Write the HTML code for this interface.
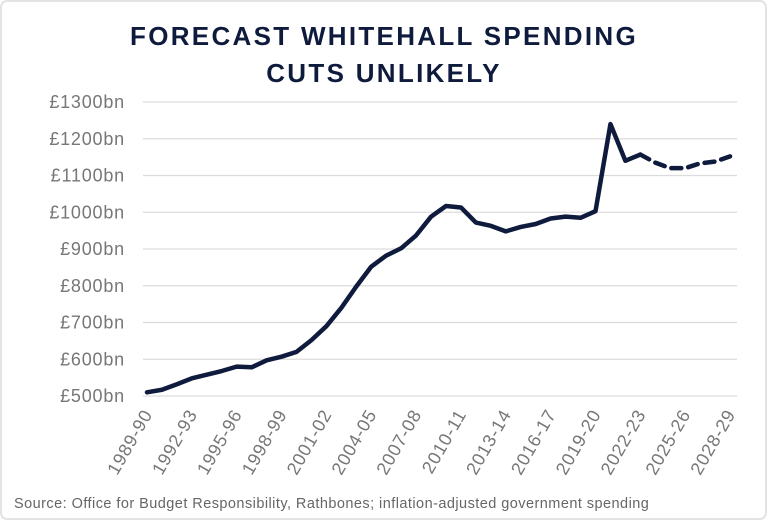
<!DOCTYPE html>
<html><head><meta charset="utf-8"><style>
html,body{margin:0;padding:0;background:#fff}
</style></head><body>
<svg width="768" height="521" xmlns="http://www.w3.org/2000/svg" font-family="Liberation Sans, sans-serif">
<rect x="1" y="1" width="765" height="518" rx="6" fill="#fff" stroke="#e3e3e3" stroke-width="2"/>
<text x="384" y="45" text-anchor="middle" font-size="26" font-weight="bold" fill="#0f1b3d" letter-spacing="2.3">FORECAST WHITEHALL SPENDING</text>
<text x="384" y="82" text-anchor="middle" font-size="26" font-weight="bold" fill="#0f1b3d" letter-spacing="2.3">CUTS UNLIKELY</text>
<g stroke="#dcdcdc" stroke-width="1.2">
<line x1="143" x2="737" y1="396" y2="396"/>
<line x1="143" x2="737" y1="359.25" y2="359.25"/>
<line x1="143" x2="737" y1="322.5" y2="322.5"/>
<line x1="143" x2="737" y1="285.75" y2="285.75"/>
<line x1="143" x2="737" y1="249" y2="249"/>
<line x1="143" x2="737" y1="212.25" y2="212.25"/>
<line x1="143" x2="737" y1="175.5" y2="175.5"/>
<line x1="143" x2="737" y1="138.75" y2="138.75"/>
<line x1="143" x2="737" y1="102" y2="102"/>
</g>
<g font-size="18" fill="#777" text-anchor="end" letter-spacing="0.8">
<text x="125" y="402">£500bn</text>
<text x="125" y="365.25">£600bn</text>
<text x="125" y="328.5">£700bn</text>
<text x="125" y="291.75">£800bn</text>
<text x="125" y="255">£900bn</text>
<text x="125" y="218.25">£1000bn</text>
<text x="125" y="181.5">£1100bn</text>
<text x="125" y="144.75">£1200bn</text>
<text x="125" y="108">£1300bn</text>
</g>
<g font-size="18" fill="#777" text-anchor="end" letter-spacing="0.8">
<text transform="translate(153,414) rotate(-60)">1989-90</text>
<text transform="translate(197.85,414) rotate(-60)">1992-93</text>
<text transform="translate(242.7,414) rotate(-60)">1995-96</text>
<text transform="translate(287.55,414) rotate(-60)">1998-99</text>
<text transform="translate(332.4,414) rotate(-60)">2001-02</text>
<text transform="translate(377.25,414) rotate(-60)">2004-05</text>
<text transform="translate(422.1,414) rotate(-60)">2007-08</text>
<text transform="translate(466.95,414) rotate(-60)">2010-11</text>
<text transform="translate(511.8,414) rotate(-60)">2013-14</text>
<text transform="translate(556.65,414) rotate(-60)">2016-17</text>
<text transform="translate(601.5,414) rotate(-60)">2019-20</text>
<text transform="translate(646.35,414) rotate(-60)">2022-23</text>
<text transform="translate(691.2,414) rotate(-60)">2025-26</text>
<text transform="translate(736.05,414) rotate(-60)">2028-29</text>
</g>
<polyline fill="none" stroke="#0f1b3d" stroke-width="4.5" stroke-linejoin="round" stroke-linecap="round" points="147,392.33 161.95,389.75 176.9,384.24 191.85,378.36 206.8,374.69 221.75,371.01 236.7,366.6 251.65,367.3 266.6,360.35 281.55,356.68 296.5,351.9 311.45,340.14 326.4,326.18 341.35,307.8 356.3,286.49 371.25,266.64 386.2,255.6 401.15,248.27 416.1,235.4 431.05,216.66 446,206 460.95,207.47 475.9,222.54 490.85,225.85 505.8,231.36 520.75,226.95 535.7,224.01 550.65,218.5 565.6,216.66 580.55,217.76 595.5,211.15 610.45,124.05 625.4,160.8 640.35,154.55"/>
<polyline fill="none" stroke="#0f1b3d" stroke-width="4.5" stroke-dasharray="10,7" stroke-linecap="round" points="640.35,154.55 655.3,162.64 670.25,168.15 685.2,168.15 700.15,163.37 715.1,161.54 730.05,156.39"/>
<text x="14" y="508" font-size="14.5" fill="#666" letter-spacing="0.45">Source: Office for Budget Responsibility, Rathbones; inflation-adjusted government spending</text>
</svg>
</body></html>
